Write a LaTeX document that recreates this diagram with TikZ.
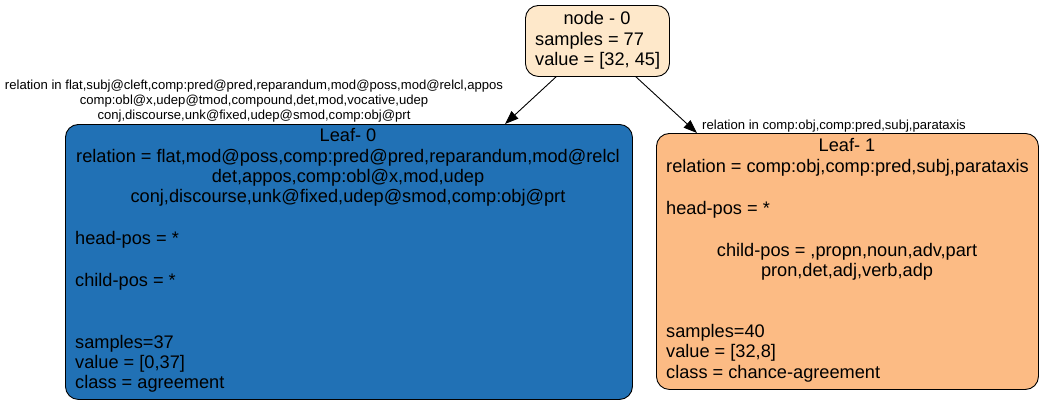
\documentclass[tikz,border=0pt]{standalone}
\usepackage{fontspec}
\setmainfont{Liberation Sans}
\usetikzlibrary{arrows.meta}
\definecolor{nzero}{RGB}{254,232,202}
\definecolor{lblue}{RGB}{33,113,181}
\definecolor{lorange}{RGB}{252,187,132}
\begin{document}
\begin{tikzpicture}[x=1bp,y=-1bp,
  box/.style={draw=black,line width=0.9bp,rounded corners=13bp,inner sep=0pt,anchor=north west},
  txt/.style={inner sep=0pt,font=\fontsize{18.2bp}{20bp}\selectfont,text height=12.5bp,text depth=3.5bp},
  lbl/.style={inner sep=0pt,font=\fontsize{13.1bp}{15bp}\selectfont,text height=9bp,text depth=2.5bp},
  edge/.style={draw=black,line width=0.9bp,-{Triangle[length=13.5bp,width=10bp]}}]
\useasboundingbox (0,0) rectangle (1043,405);
% boxes
\node[box,fill=nzero,minimum width=144bp,minimum height=71bp] (n0) at (525,5) {};
\node[box,fill=lblue,minimum width=567bp,minimum height=275bp] (l0) at (65,124) {};
\node[box,fill=lorange,minimum width=382bp,minimum height=256bp] (l1) at (656,133) {};
% node 0 text
\node[txt] (n0a) at (597,20) {node - 0};
\node[txt,anchor=west] (n0b) at (535,41) {samples = 77};
\node[txt,anchor=west] (n0c) at (535,61) {value = [32, 45]};
% leaf 0 text
\node[txt] (l0a) at (348,137) {Leaf- 0};
\node[txt] (l0b) at (348,158) {relation = flat,mod@poss,comp:pred@pred,reparandum,mod@relcl};
\node[txt] (l0c) at (348,178) {det,appos,comp:obl@x,mod,udep};
\node[txt] (l0d) at (348,198) {conj,discourse,unk@fixed,udep@smod,comp:obj@prt};
\node[txt,anchor=west] (l0e) at (75,240) {head-pos = *};
\node[txt,anchor=west] (l0f) at (75,282) {child-pos = *};
\node[txt,anchor=west] (l0g) at (75,344) {samples=37};
\node[txt,anchor=west] (l0h) at (75,364) {value = [0,37]};
\node[txt,anchor=west] (l0i) at (75,384) {class = agreement};
% leaf 1 text
\node[txt] (l1a) at (847,147) {Leaf- 1};
\node[txt,anchor=west] (l1b) at (666,168) {relation = comp:obj,comp:pred,subj,parataxis};
\node[txt,anchor=west] (l1c) at (666,210) {head-pos = *};
\node[txt] (l1d) at (847,252) {child-pos = ,propn,noun,adv,part};
\node[txt] (l1e) at (847,272) {pron,det,adj,verb,adp};
\node[txt,anchor=west] (l1f) at (666,333) {samples=40};
\node[txt,anchor=west] (l1g) at (666,353) {value = [32,8]};
\node[txt,anchor=west] (l1h) at (666,374) {class = chance-agreement};
% edges
\draw[edge] ([xshift=31bp]n0.south west) -- ([xshift=440bp]l0.north west);
\draw[edge] ([xshift=111bp]n0.south west) -- ([xshift=41bp]l1.north west);
% edge labels
\node[lbl] (e0a) at (254,86) {relation in flat,subj@cleft,comp:pred@pred,reparandum,mod@poss,mod@relcl,appos};
\node[lbl] (e0b) at (254,101) {comp:obl@x,udep@tmod,compound,det,mod,vocative,udep};
\node[lbl] (e0c) at (254,116) {conj,discourse,unk@fixed,udep@smod,comp:obj@prt};
\node[lbl,anchor=west] (e1a) at (702,126) {relation in comp:obj,comp:pred,subj,parataxis};
\end{tikzpicture}
\end{document}
